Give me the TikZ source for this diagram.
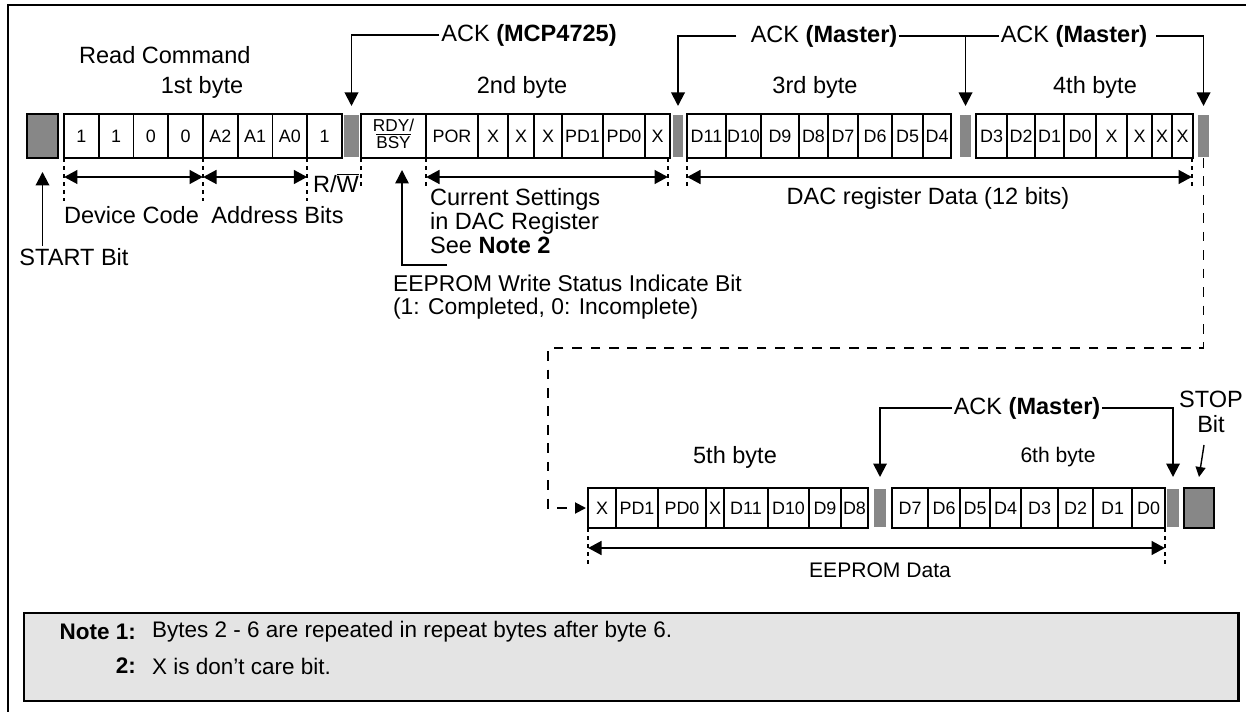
\documentclass[tikz,border=0pt]{standalone}
\usepackage{fontspec}
\setmainfont{Liberation Sans}
\usetikzlibrary{arrows.meta}
\definecolor{ackgray}{HTML}{878787}
\definecolor{notegray}{HTML}{E4E4E4}

\begin{document}
\begin{tikzpicture}[x=0.02cm,y=-0.02cm,>={Triangle[length=0.27cm,width=0.27cm]},
  every node/.style={font=\fontsize{13.4}{15}\selectfont,inner sep=1pt},
  cellbox/.style={draw,line width=1.1pt,fill=white},
  bitlbl/.style={font=\fontsize{10.2}{12}\selectfont,inner sep=0pt},
  startstop/.style={draw,line width=1.1pt,fill=ackgray,inner sep=0pt},
  ackline/.style={line width=1.1pt},
  guide/.style={line width=1.1pt,dash pattern=on 2.3pt off 2.3pt},
  loopline/.style={line width=1.1pt,dash pattern=on 5.5pt off 5pt},
  dimarrow/.style={line width=1.7pt,<->},
  notetxt/.style={font=\fontsize{12.8}{15}\selectfont}]
\useasboundingbox (0,0) rectangle (1246,712);
% frame
\draw[line width=1.4pt] (8,712) -- (8,5) -- (1246,5);

% first line: START + bytes 1..4
\node[startstop,minimum width=0.62cm,minimum height=0.88cm] (startbox) at (42.5,136) {};
\foreach \a/\b/\t [count=\i] in {64/98.75/1,98.75/133.5/1,133.5/168.25/0,168.25/203/0,203/237.75/A2,237.75/272.5/A1,272.5/307.25/A0,307.25/342/1}{
  \draw[cellbox] (\a,114) rectangle (\b,158);
  \node[bitlbl] (one\i) at ({(\a+\b)/2},136) {\t};
}
\draw[cellbox] (361,114) rectangle (426,158);
\node[bitlbl,align=center,font=\fontsize{9.8}{10}\selectfont] (rdy) at (393.5,134) {RDY/\\$\overline{\mbox{BSY}}$};
\foreach \a/\b/\t [count=\i] in {426/478/POR,478/508/X,508/534/X,534/562/X,562/603/PD1,603/645/PD0,645/670/X}{
  \draw[cellbox] (\a,114) rectangle (\b,158);
  \node[bitlbl] (two\i) at ({(\a+\b)/2},136) {\t};
}
\foreach \a/\b/\t [count=\i] in {687/726/D11,726/761/D10,761/799/D9,799/828/D8,828/858/D7,858/892/D6,892/923/D5,923/951/D4}{
  \draw[cellbox] (\a,114) rectangle (\b,158);
  \node[bitlbl] (three\i) at ({(\a+\b)/2},136) {\t};
}
\foreach \a/\b/\t [count=\i] in {976/1007/D3,1007/1035/D2,1035/1064/D1,1064/1096/D0,1096/1127/X,1127/1152/X,1152/1172/X,1172/1193/X}{
  \draw[cellbox] (\a,114) rectangle (\b,158);
  \node[bitlbl] (four\i) at ({(\a+\b)/2},136) {\t};
}
% ack slots
\foreach \a/\b in {344/359,673/683,960/971,1198/1209}
  \fill[ackgray] (\a,115) rectangle (\b,157);

% labels above
\node[anchor=west] (readcmd) at (77,55) {Read Command};
\node (byte1) at (202,87) {1st byte};
\node (byte2) at (522,87) {2nd byte};
\node (byte3) at (815,87) {3rd byte};
\node (byte4) at (1095,87) {4th byte};

% ack arrows
\node (ackmcp) at (529,35) {ACK \textbf{(MCP4725)}};
\coordinate (a1) at (351.5,35);
\coordinate (a1t) at (351.5,106);
\draw[ackline,->] (ackmcp.west) -- (a1) -- (a1t);
\node (ackm1) at (824,36) {ACK \textbf{(Master)}};
\node (ackm2) at (1074,36) {ACK \textbf{(Master)}};
\coordinate (a2) at (678,36);
\coordinate (a2t) at (678,106);
\coordinate (a3) at (965.5,36);
\coordinate (a3t) at (965.5,106);
\coordinate (a4) at (1203.5,36);
\coordinate (a4t) at (1203.5,106);
\draw[ackline,->] ([xshift=-7pt]ackm1.west) -- (a2) -- (a2t);
\draw[ackline] (ackm1.east) -- (ackm2.west);
\draw[ackline,->] (a3) -- (a3t);
\draw[ackline,->] ([xshift=4pt]ackm2.east) -- (a4) -- (a4t);

% guides and ranges under the first line
\foreach \x in {64,203,307.25}
  \draw[guide] (\x,158) -- (\x,201);
\foreach \x in {361,426,668,687,1192}
  \draw[guide] (\x,158) -- (\x,190);
\coordinate (dc1) at (64,177);
\coordinate (dc2) at (203,177);
\coordinate (ab2) at (307.25,177);
\coordinate (cs1) at (426,177);
\coordinate (cs2) at (668,177);
\coordinate (dr1) at (687,177);
\coordinate (dr2) at (1192,177);
\draw[dimarrow] (dc1) -- (dc2);
\draw[dimarrow] (dc2) -- (ab2);
\draw[dimarrow] (cs1) -- (cs2);
\draw[dimarrow] (dr1) -- (dr2);
\node (devcode) at (131.5,215) {Device Code};
\node (addrbits) at (277.5,215) {Address Bits};
\node (rw) at (336,183) {R/$\overline{\mbox{W}}$};
\node (startlbl) at (74,257) {START Bit};
\draw[ackline,->] (startlbl.north -| startbox.south) -- ([yshift=-0.26cm]startbox.south);
\node[anchor=west,align=left,font=\fontsize{13.4}{13.7}\selectfont] (curset) at (428,221) {Current Settings\\in DAC Register\\See \textbf{Note 2}};
\coordinate (ew0) at (447,265);
\coordinate (ew1) at (402,265);
\coordinate (ew2) at (402,170);
\draw[line width=0.8pt,->] (ew0) -- (ew1) -- (ew2);
\node[anchor=west,align=left,font=\fontsize{13}{13}\selectfont] (eewrite) at (391,297) {EEPROM Write Status Indicate Bit\\(1: Completed, 0: Incomplete)};
\node (dacdata) at (928,198) {DAC register Data (12 bits)};

% continuation to the second line
\coordinate (lp0) at (1203.5,158);
\coordinate (lp1) at (1203.5,348);
\coordinate (lp2) at (548,348);
\coordinate (lp3) at (548,508);
\coordinate (lp4) at (586,508);
\draw[loopline,-{Triangle[length=0.22cm,width=0.22cm]}] (lp0) -- (lp1) -- (lp2) -- (lp3) -- (lp4);

% second line: bytes 5, 6 + STOP
\foreach \a/\b/\t [count=\i] in {588/616/X,616/658/PD1,658/706/PD0,706/724/X,724/768/D11,768/809/D10,809/841/D9,841/868/D8}{
  \draw[cellbox] (\a,488) rectangle (\b,528);
  \node[bitlbl] (five\i) at ({(\a+\b)/2},508) {\t};
}
\foreach \a/\b/\t [count=\i] in {892/928/D7,928/960/D6,960/990/D5,990/1021/D4,1021/1058/D3,1058/1093/D2,1093/1132/D1,1132/1165/D0}{
  \draw[cellbox] (\a,488) rectangle (\b,528);
  \node[bitlbl] (six\i) at ({(\a+\b)/2},508) {\t};
}
\foreach \a/\b in {874/886,1167/1179}
  \fill[ackgray] (\a,489) rectangle (\b,527);
\node[startstop,minimum width=0.6cm,minimum height=0.8cm] (stopbox) at (1199,508) {};
\node (byte5) at (735,457) {5th byte};
\node[font=\fontsize{12}{14}\selectfont] (byte6) at (1058,457) {6th byte};
\node (ackm3) at (1027,408) {ACK \textbf{(Master)}};
\coordinate (a5) at (880,408);
\coordinate (a5t) at (880,477);
\coordinate (a6) at (1173,408);
\coordinate (a6t) at (1173,477);
\draw[ackline,->] (ackm3.west) -- (a5) -- (a5t);
\draw[ackline,->] (ackm3.east) -- (a6) -- (a6t);
\node[align=center,font=\fontsize{13.4}{14.2}\selectfont] (stoplbl) at (1211,412) {STOP\\Bit};
\coordinate (st0) at (1204,445);
\coordinate (st1) at (1199,477);
\draw[line width=0.8pt,-{Triangle[length=0.2cm,width=0.2cm]}] (st0) -- (st1);
\foreach \x in {588,1165}
  \draw[guide] (\x,528) -- (\x,564);
\coordinate (ee1) at (588,548);
\coordinate (ee2) at (1165,548);
\draw[dimarrow] (ee1) -- (ee2);
\node[font=\fontsize{12}{14}\selectfont] (eedata) at (880,570) {EEPROM Data};

% notes
\draw[line width=1.7pt,fill=notegray] (24,613) rectangle (1238,701);
\node[notetxt,anchor=east] (note1) at (138,632) {\textbf{Note 1:}};
\node[notetxt,anchor=west] (note1txt) at (150,632) {Bytes 2 - 6 are repeated in repeat bytes after byte 6.};
\node[notetxt,anchor=east] (note2) at (138,666) {\textbf{2:}};
\node[notetxt,anchor=west] (note2txt) at (150,666) {X is don’t care bit.};
\end{tikzpicture}
\end{document}
